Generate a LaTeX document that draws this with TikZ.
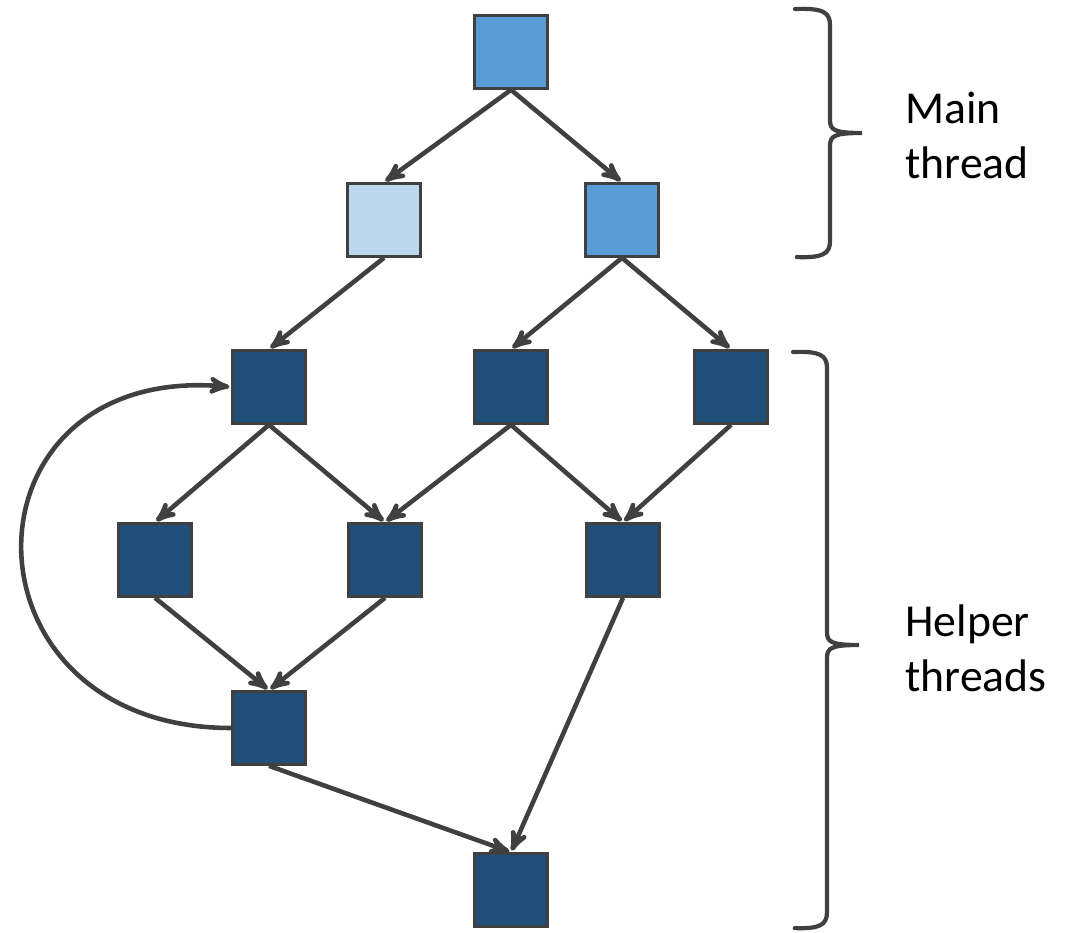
\documentclass[tikz,border=0pt]{standalone}
\usepackage{fontspec}
\setmainfont{Carlito}
\usetikzlibrary{arrows,positioning}

\definecolor{edgegray}{HTML}{404040}
\definecolor{mainblue}{HTML}{5B9BD5}
\definecolor{spareblue}{HTML}{BDD7EE}
\definecolor{helperblue}{HTML}{1F4E79}

\tikzset{
  task/.style={rectangle, draw=edgegray, line width=1.8pt, minimum size=1.45cm, inner sep=0pt},
  maintask/.style={task, fill=mainblue},
  sparetask/.style={task, fill=spareblue},
  helpertask/.style={task, fill=helperblue},
  bracket/.style={draw=edgegray, line width=2.4pt, line cap=round},
  threadlabel/.style={anchor=west, align=left, inner sep=0pt, font=\fontsize{26}{31.3}\selectfont}
}

\begin{document}
\begin{tikzpicture}[>=stealth',shorten >=1pt,on grid]
  \useasboundingbox (0,0) rectangle (21.46,-18.66);

  \node[maintask]   (root) at (10.22,-1.04) {};
  \node[sparetask]  (a) [below left=3.36cm and 2.54cm of root]  {};
  \node[maintask]   (b) [below right=3.36cm and 2.22cm of root] {};
  \node[helpertask] (c) [below left=3.34cm and 2.30cm of a]     {};
  \node[helpertask] (d) [below left=3.34cm and 2.22cm of b]     {};
  \node[helpertask] (e) [below right=3.34cm and 2.18cm of b]    {};
  \node[helpertask] (f) [below left=3.46cm and 2.28cm of c]     {};
  \node[helpertask] (g) [below right=3.46cm and 2.32cm of c]    {};
  \node[helpertask] (h) [below right=3.46cm and 2.24cm of d]    {};
  \node[helpertask] (k) [below right=3.36cm and 2.28cm of f]    {};
  \node[helpertask] (m) [below=10.06cm of d]                    {};

  \path[every edge/.style={draw=edgegray, line width=2.6pt, ->}]
        (root.south) edge (a.north)
                     edge (b.north)
        (a.south) edge (c.north)
        (b.south) edge (d.north)
                  edge (e.north)
        (c.south) edge (f.north)
                  edge (g.north)
        (d.south) edge (g.north)
                  edge (h.north)
        (e.south) edge (h.north)
        (f.south) edge (k.north)
        (g.south) edge (k.north)
        (h.south) edge (m.north)
        (k.south) edge (m.north)
        (k.west) edge [out=180, in=175, looseness=2.1] (c.west);

  % braces
  \draw[bracket] (15.90,-0.18) .. controls (16.45,-0.16) and (16.60,-0.24) .. (16.60,-0.50)
        -- (16.60,-2.40) .. controls (16.60,-2.60) and (16.68,-2.66) .. (17.24,-2.66)
        .. controls (16.68,-2.66) and (16.60,-2.72) .. (16.60,-2.92)
        -- (16.60,-4.82) .. controls (16.60,-5.08) and (16.45,-5.16) .. (15.90,-5.14);
  \draw[bracket] (15.86,-7.04) .. controls (16.39,-7.02) and (16.54,-7.10) .. (16.54,-7.36)
        -- (16.54,-12.64) .. controls (16.54,-12.84) and (16.62,-12.90) .. (17.18,-12.90)
        .. controls (16.62,-12.90) and (16.54,-12.96) .. (16.54,-13.16)
        -- (16.54,-18.24) .. controls (16.54,-18.50) and (16.39,-18.58) .. (15.86,-18.56);

  \node[threadlabel] (mainlbl)   at (18.10,-2.70)  {Main\\thread};
  \node[threadlabel] (helperlbl) at (18.10,-12.96) {Helper\\threads};
\end{tikzpicture}
\end{document}
